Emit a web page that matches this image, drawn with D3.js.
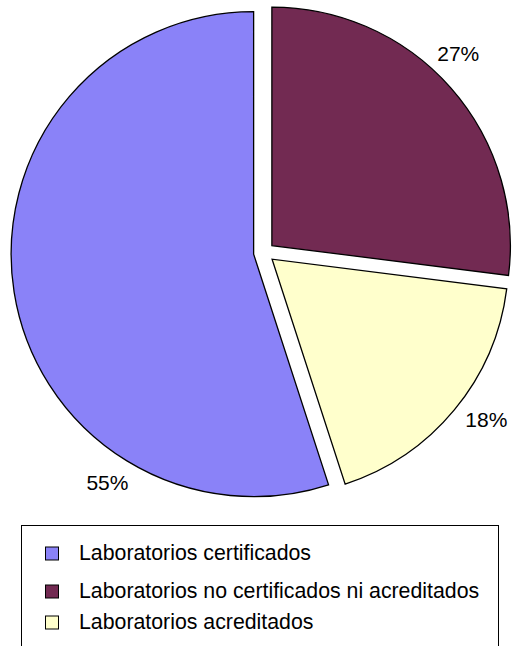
<!DOCTYPE html>
<html>
<head>
<meta charset="utf-8">
<script src="https://cdn.jsdelivr.net/npm/d3@7"></script>
<style>
  body { margin: 0; background: #fff; }
  svg { display: block; font-family: "Liberation Sans", Arial, sans-serif; }
</style>
</head>
<body>
<svg id="chart" width="512" height="646"></svg>
<script>
// data, in drawing order (clockwise from 12 o'clock)
var categories = ["Laboratorios no certificados ni acreditados", "Laboratorios acreditados", "Laboratorios certificados"];
var values = [27, 18, 55];
var colors = ["#722a52", "#ffffcc", "#8a82f8"];

// legend order
var legendItems = ["Laboratorios certificados", "Laboratorios no certificados ni acreditados", "Laboratorios acreditados"];

var svg = d3.select("#chart");

var cx = 264, cy = 252.5, explode = 10.5;
// the original renders the slices at slightly different sizes
var sliceRadius = [238.5, 236.5, 242.5];
// where the label sits inside each slice's angle span (0 = start, 1 = end)
var labelFrac = [0.456, 0.458, 0.264];
var labelRadius = 278;

var pie = d3.pie().sort(null).value(function(d) { return d; });
var arcs = pie(values);

var arc = d3.arc().innerRadius(0).outerRadius(function(d) { return sliceRadius[d.index]; });

var g = svg.append("g").attr("transform", "translate(" + cx + "," + cy + ")");

g.selectAll("path.slice")
  .data(arcs)
  .enter().append("path")
  .attr("class", "slice")
  .attr("d", arc)
  .attr("transform", function(d) {
    var a = (d.startAngle + d.endAngle) / 2;
    return "translate(" + (Math.sin(a) * explode) + "," + (-Math.cos(a) * explode) + ")";
  })
  .style("fill", function(d, i) { return colors[i]; })
  .style("stroke", "#000")
  .style("stroke-width", 1.3)
  .style("stroke-linejoin", "miter");

g.selectAll("text.pct")
  .data(arcs)
  .enter().append("text")
  .attr("class", "pct")
  .attr("x", function(d, i) {
    var a = d.startAngle + labelFrac[i] * (d.endAngle - d.startAngle);
    return Math.sin(a) * labelRadius;
  })
  .attr("y", function(d, i) {
    var a = d.startAngle + labelFrac[i] * (d.endAngle - d.startAngle);
    return -Math.cos(a) * labelRadius;
  })
  .attr("text-anchor", "middle")
  .attr("dy", "0.36em")
  .style("font-size", "21px")
  .style("fill", "#000")
  .text(function(d) { return d.value + "%"; });

// legend
var legend = svg.append("g");
legend.append("rect")
  .attr("x", 21.5).attr("y", 525.5)
  .attr("width", 477).attr("height", 140)
  .style("fill", "#fff").style("stroke", "#000").style("stroke-width", 1);

var rowY = [554, 592, 623];
legendItems.forEach(function(name, i) {
  var k = categories.indexOf(name);
  legend.append("rect")
    .attr("x", 45.5).attr("y", rowY[i] - 7)
    .attr("width", 13).attr("height", 13)
    .style("fill", colors[k]).style("stroke", "#000").style("stroke-width", 1);
  legend.append("text")
    .attr("x", 79).attr("y", rowY[i] - 2)
    .attr("dy", "0.36em")
    .style("font-size", "21.3px")
    .text(name);
});
</script>
</body>
</html>
